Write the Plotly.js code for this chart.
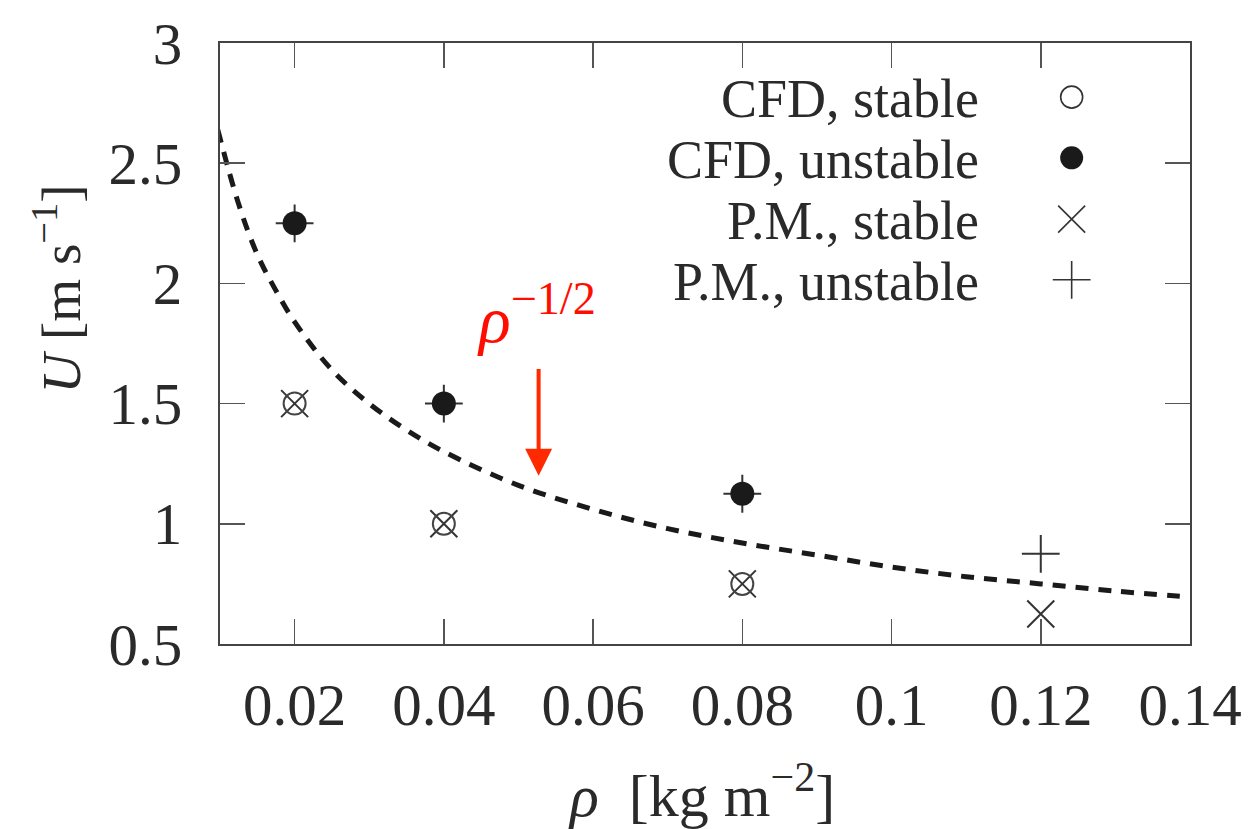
<!DOCTYPE html>
<html>
<head>
<meta charset="utf-8">
<script src="https://cdn.plot.ly/plotly-3.0.1.min.js"></script>
<style>
  html, body { margin: 0; padding: 0; background: #fff; }
  #chart { width: 1253px; height: 829px; }
</style>
</head>
<body>
<div id="chart"></div>
<script>
// Flutter onset speed U versus areal density rho
const rhoCFD = [0.02, 0.04, 0.08];
const uCFDStable = [1.5, 1.0, 0.75];
const uCFDUnstable = [2.25, 1.5, 1.125];

const rhoPM = [0.02, 0.04, 0.08, 0.12];
const uPMStable = [1.5, 1.0, 0.75, 0.625];
const uPMUnstable = [2.25, 1.5, 1.125, 0.875];

// rho^(-1/2) scaling curve, sampled values
const rhoCurve = [0.0097, 0.0125, 0.015, 0.0175, 0.02, 0.025, 0.03, 0.035, 0.04, 0.05,
                  0.06, 0.07, 0.08, 0.09, 0.10, 0.11, 0.12, 0.13, 0.14];
const uCurve = [2.64, 2.33, 2.12, 1.97, 1.84, 1.64, 1.50, 1.39, 1.30, 1.16,
                1.06, 0.98, 0.92, 0.87, 0.82, 0.78, 0.75, 0.72, 0.695];

const xTickVals = [0.02, 0.04, 0.06, 0.08, 0.10, 0.12, 0.14];
const xTickText = ['0.02', '0.04', '0.06', '0.08', '0.1', '0.12', '0.14'];
const yTickVals = [0.5, 1, 1.5, 2, 2.5, 3];
const yTickText = ['0.5', '1', '1.5', '2', '2.5', '3'];

const legendLabels = ['CFD, stable', 'CFD, unstable', 'P.M., stable', 'P.M., unstable'];

const SERIF = 'Liberation Serif, Times New Roman, serif';
const INK = '#2a2a2a';

// key layout: symbols sit to the right of right-aligned labels
const keyX = 0.878;
const keyY = [0.91, 0.809, 0.707, 0.606];
const labelX = 0.785;

const keyStyles = [
  {symbol: 'circle-open', size: 22, color: '#333', lw: 1.6},
  {symbol: 'circle', size: 23, color: '#1a1a1a', lw: 0},
  {symbol: 'x-thin-open', size: 27, color: '#333', lw: 1.6},
  {symbol: 'cross-thin-open', size: 27, color: '#333', lw: 1.6}
];

const traces = [
  {
    x: rhoCurve, y: uCurve, type: 'scatter', mode: 'lines',
    line: {color: '#1a1a1a', width: 5, dash: '13px,10px', shape: 'spline'},
    cliponaxis: false, hoverinfo: 'skip'
  },
  {
    x: rhoPM, y: uPMUnstable, type: 'scatter', mode: 'markers', name: legendLabels[3],
    marker: {symbol: 'cross-thin-open', size: 27, color: '#333', line: {color: '#333', width: 2}}
  },
  {
    x: rhoPM, y: uPMStable, type: 'scatter', mode: 'markers', name: legendLabels[2],
    marker: {symbol: 'x-thin-open', size: 27, color: '#333', line: {color: '#333', width: 2}}
  },
  {
    x: rhoCFD, y: uCFDUnstable, type: 'scatter', mode: 'markers', name: legendLabels[1],
    marker: {symbol: 'circle', size: 24, color: '#1a1a1a', line: {width: 0}}
  },
  {
    x: rhoCFD, y: uCFDStable, type: 'scatter', mode: 'markers', name: legendLabels[0],
    marker: {symbol: 'circle-open', size: 22, color: '#444', line: {color: '#444', width: 2}}
  }
];

// legend keys on an overlay axis spanning the plot area
keyStyles.forEach((s, i) => {
  traces.push({
    x: [keyX], y: [keyY[i]], xaxis: 'x2', yaxis: 'y2',
    type: 'scatter', mode: 'markers', hoverinfo: 'skip',
    marker: {symbol: s.symbol, size: s.size, color: s.color, line: {color: s.color, width: s.lw}}
  });
});

const annotations = legendLabels.map((t, i) => ({
  text: t, xref: 'paper', yref: 'paper', x: labelX, y: keyY[i] - 0.004,
  xanchor: 'right', yanchor: 'middle', showarrow: false,
  font: {family: SERIF, size: 54, color: INK}
}));

annotations.push(
  {
    // arrow pointing to the scaling curve
    x: 0.0527, y: 1.2, ax: 0.0527, ay: 1.65, xref: 'x', yref: 'y', axref: 'x', ayref: 'y',
    text: '', showarrow: true, arrowhead: 2, arrowsize: 1.35, arrowwidth: 4, arrowcolor: '#ff2a00'
  },
  {
    text: '<i>ρ</i><sup>−1/2</sup>', x: 0.0524, y: 1.87, xref: 'x', yref: 'y',
    xanchor: 'center', yanchor: 'middle', showarrow: false,
    font: {family: SERIF, size: 66, color: '#ff0d00'}
  },
  {
    text: '<i>ρ</i>  [kg m<sup>−2</sup>]', xref: 'paper', yref: 'paper', x: 0.496, y: -0.245,
    xanchor: 'center', yanchor: 'middle', showarrow: false,
    font: {family: SERIF, size: 60, color: INK}
  },
  {
    text: '<i>U</i> [m s<sup>−1</sup>]', xref: 'paper', yref: 'paper', x: -0.168, y: 0.59,
    xanchor: 'center', yanchor: 'middle', showarrow: false, textangle: -90,
    font: {family: SERIF, size: 55, color: INK}
  }
);

const axisCommon = {
  showgrid: false, zeroline: false, showline: true, linecolor: '#444', linewidth: 2,
  mirror: 'allticks', ticks: 'inside', ticklen: 25, tickwidth: 1.5, tickcolor: '#555',
  tickfont: {family: SERIF, size: 59, color: INK}
};

const layout = {
  width: 1253, height: 829,
  margin: {l: 220, r: 63, t: 43, b: 185},
  paper_bgcolor: '#fff', plot_bgcolor: '#fff',
  showlegend: false,
  xaxis: Object.assign({}, axisCommon, {
    range: [0.01, 0.14], tickvals: xTickVals, ticktext: xTickText, ticklabelstandoff: 8
  }),
  yaxis: Object.assign({}, axisCommon, {
    range: [0.5, 3], tickvals: yTickVals, ticktext: yTickText, ticklabelstandoff: 24
  }),
  xaxis2: {overlaying: 'x', range: [0, 1], visible: false, anchor: 'y2'},
  yaxis2: {overlaying: 'y', range: [0, 1], visible: false, anchor: 'x2'},
  annotations: annotations
};

Plotly.newPlot('chart', traces, layout, {staticPlot: true});
</script>
</body>
</html>
